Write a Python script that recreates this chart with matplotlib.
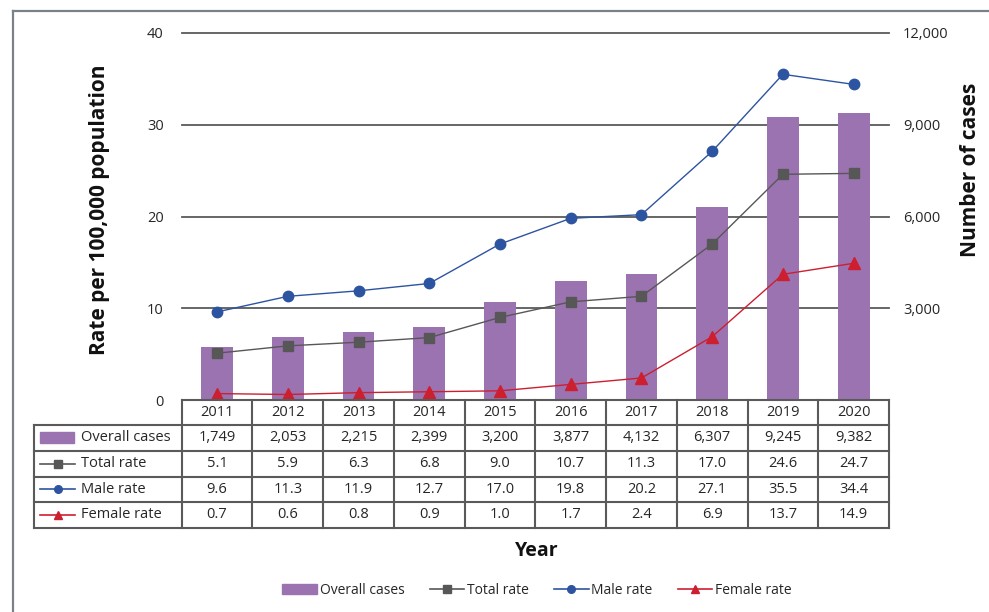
import matplotlib
matplotlib.use("Agg")
import matplotlib.pyplot as plt
from matplotlib.lines import Line2D
from matplotlib.patches import Rectangle

# ---- data ----
years = ["2011", "2012", "2013", "2014", "2015", "2016", "2017", "2018", "2019", "2020"]
overall_cases = [1749, 2053, 2215, 2399, 3200, 3877, 4132, 6307, 9245, 9382]
total_rate = [5.1, 5.9, 6.3, 6.8, 9.0, 10.7, 11.3, 17.0, 24.6, 24.7]
male_rate = [9.6, 11.3, 11.9, 12.7, 17.0, 19.8, 20.2, 27.1, 35.5, 34.4]
female_rate = [0.7, 0.6, 0.8, 0.9, 1.0, 1.7, 2.4, 6.9, 13.7, 14.9]

rate_ticks = [0, 10, 20, 30, 40]
case_ticks = [3000, 6000, 9000, 12000]

# ---- styling ----
FONT = "Open Sans"
plt.rcParams["font.family"] = [FONT, "DejaVu Sans"]
PURPLE = "#9c73b1"
GRAY = "#575757"
BLUE = "#2d54a0"
RED = "#cc1f30"
TXT = "#262626"
GRID = "#5a5a5a"
BORDER = "#5a5a5a"

W, H = 989, 612
fig = plt.figure(figsize=(W / 100, H / 100), dpi=100)

# plot area in pixels
x0, x1 = 181.7, 889.0
y_top, y_bot = 33.0, 400.0
ax_b = fig.add_axes([x0 / W, 1 - y_bot / H, (x1 - x0) / W, (y_bot - y_top) / H])
ax_l = ax_b.twinx()

n = len(years)
xs = list(range(n))

# bars (number of cases) on the right-hand scale
ax_b.bar(xs, overall_cases, width=0.45, color=PURPLE, zorder=2)
ax_b.set_ylim(0, 12000)
ax_b.set_xlim(-0.5, n - 0.5)
ax_b.yaxis.tick_right()
ax_b.set_yticks(case_ticks)
ax_b.set_yticklabels([f"{v:,}" for v in case_ticks])
for v in case_ticks:
    ax_b.axhline(v, color=GRID, lw=1.3, zorder=1, clip_on=False)

# rate lines on the left-hand scale
ax_l.plot(xs, male_rate, color=BLUE, lw=1.0, marker="o", ms=7.5, zorder=4)
ax_l.plot(xs, total_rate, color=GRAY, lw=1.0, marker="s", ms=7.5, zorder=4)
ax_l.plot(xs, female_rate, color=RED, lw=1.0, marker="^", ms=8, zorder=4)
ax_l.set_ylim(0, 40)
ax_l.yaxis.tick_left()
ax_l.set_yticks(rate_ticks)

for a in (ax_b, ax_l):
    for s in a.spines.values():
        s.set_visible(False)
    a.set_xticks([])
    a.tick_params(axis="y", length=0, labelsize=10.5, labelcolor=TXT)
ax_b.tick_params(axis="y", pad=10)
ax_l.tick_params(axis="y", pad=13)

# axis titles
fig.text(100 / W, 1 - 210 / H, "Rate per 100,000 population", rotation=90,
         ha="center", va="center", fontsize=15, fontweight="bold", color="#111111")
fig.text(970 / W, 1 - 170 / H, "Number of cases", rotation=90,
         ha="center", va="center", fontsize=15, fontweight="bold", color="#111111")
fig.text(537 / W, 1 - 551 / H, "Year", ha="center", va="center",
         fontsize=14, fontweight="bold", color="#111111")

# ---- data table under the plot ----
tab = fig.add_axes([0, 0, 1, 1], zorder=5)
tab.set_xlim(0, W)
tab.set_ylim(H, 0)
tab.axis("off")
tab.patch.set_alpha(0)

cw = (x1 - x0) / n
lab_x0 = 34.0
rows_y = [400.0, 425.0, 450.5, 476.5, 502.0, 527.5]

def hline(y, xa, xb, lw=1.5):
    tab.add_line(Line2D([xa, xb], [y, y], color=BORDER, lw=lw))

def vline(x, ya, yb, lw=1.5):
    tab.add_line(Line2D([x, x], [ya, yb], color=BORDER, lw=lw))

hline(rows_y[0], x0, x1)
for y in rows_y[1:]:
    hline(y, lab_x0, x1)
vline(lab_x0, rows_y[1], rows_y[-1])
for i in range(n + 1):
    vline(x0 + i * cw, rows_y[0], rows_y[-1])

def cy(r):
    return (rows_y[r] + rows_y[r + 1]) / 2

for i, yr in enumerate(years):
    tab.text(x0 + (i + 0.5) * cw, cy(0), yr, ha="center", va="center",
             fontsize=10.5, color=TXT)

row_data = [
    ("Overall cases", [f"{v:,}" for v in overall_cases]),
    ("Total rate", [f"{v:.1f}" for v in total_rate]),
    ("Male rate", [f"{v:.1f}" for v in male_rate]),
    ("Female rate", [f"{v:.1f}" for v in female_rate]),
]
for r, (label, vals) in enumerate(row_data, start=1):
    yc = cy(r)
    tab.text(81, yc, label, ha="left", va="center", fontsize=10.5, color=TXT)
    for i, s in enumerate(vals):
        tab.text(x0 + (i + 0.5) * cw, yc, s, ha="center", va="center",
                 fontsize=10.5, color=TXT)

# legend keys inside the row labels
tab.add_patch(Rectangle((40, cy(1) - 5.5), 34, 11, color=PURPLE))
for r, col, mk, ms in [(2, GRAY, "s", 6), (3, BLUE, "o", 5.5), (4, RED, "^", 6)]:
    tab.add_line(Line2D([40, 75], [cy(r), cy(r)], color=col, lw=1.2))
    tab.add_line(Line2D([57.5], [cy(r)], color=col, marker=mk, ms=ms, lw=0))

# outer frame (top and left edges)
tab.add_line(Line2D([13, 13], [11, H], color="#7b8189", lw=1.6))
tab.add_line(Line2D([13, W], [11, 11], color="#7b8189", lw=1.6))

# ---- legend ----
handles = [
    Rectangle((0, 0), 1, 1, color=PURPLE),
    Line2D([], [], color=GRAY, lw=1.2, marker="s", ms=6),
    Line2D([], [], color=BLUE, lw=1.2, marker="o", ms=5.5),
    Line2D([], [], color=RED, lw=1.2, marker="^", ms=6),
]
labels = ["Overall cases", "Total rate", "Male rate", "Female rate"]
fig.legend(handles, labels, loc="center", bbox_to_anchor=(537 / W, 1 - 590 / H),
           ncol=4, frameon=False, fontsize=10, handlelength=2.5,
           handletextpad=0.2, columnspacing=1.8, labelcolor=TXT)

fig.savefig("out.png", dpi=100)
